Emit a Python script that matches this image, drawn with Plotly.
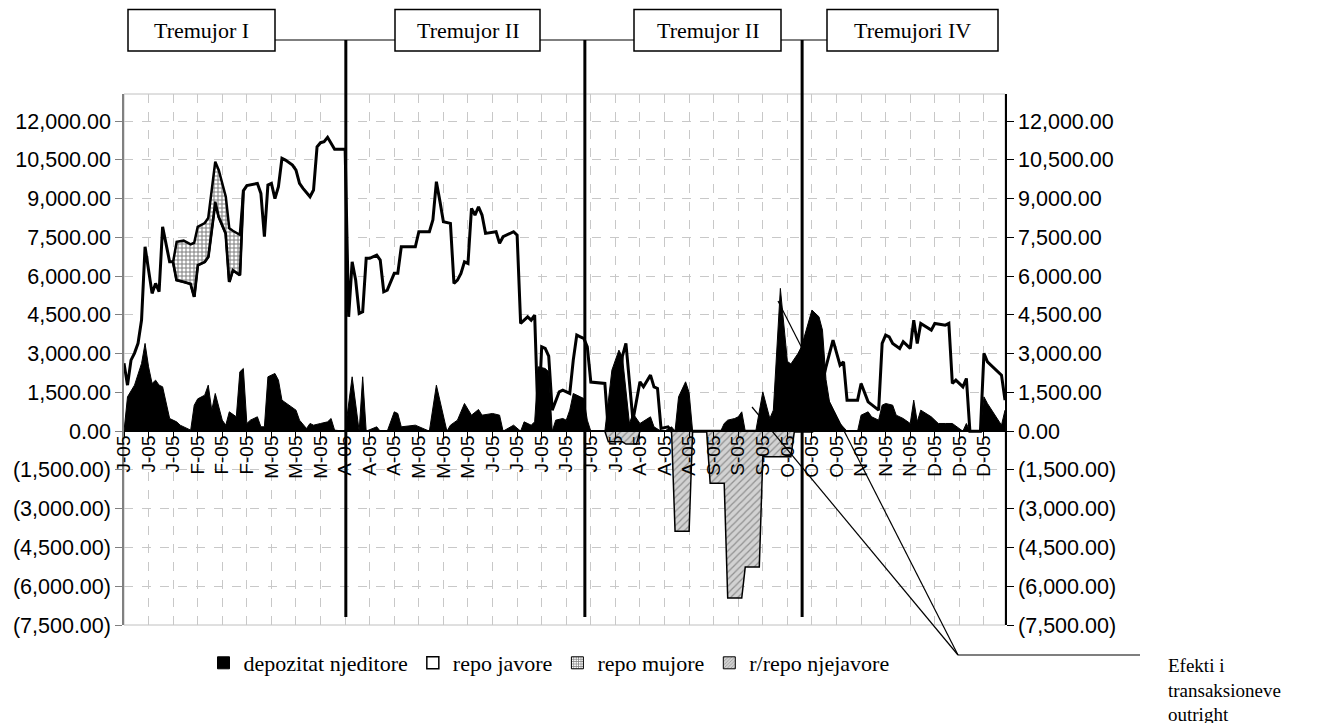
import plotly.graph_objects as go

# ---------------- data ----------------
N_DAYS = 252          # business days on the category axis
TICK_STEP = 7         # a label every 7 business days
tick_labels = ["J-05", "J-05", "J-05", "F-05", "F-05", "F-05", "M-05", "M-05", "M-05",
               "A-05", "A-05", "A-05", "M-05", "M-05", "M-05", "J-05", "J-05", "J-05",
               "J-05", "J-05", "J-05", "A-05", "A-05", "A-05", "S-05", "S-05", "S-05",
               "O-05", "O-05", "O-05", "N-05", "N-05", "N-05", "D-05", "D-05", "D-05"]

# repo javore (day index, value)
repo_javore = [(0, 2630), (1, 1780), (2, 2750), (3, 3020), (4, 3400), (5, 4300), (6, 7135), (7, 6230),
               (8, 5330), (9, 5717), (10, 5395), (11, 7909), (12, 7265), (13, 6553), (14, 6553), (15, 5845),
               (17, 5780), (19, 5700), (20, 5200), (21, 6426), (23, 6553), (24, 6747), (26, 8876), (27, 8296),
               (29, 7652), (30, 5779), (31, 6232), (33, 6039), (34, 9300), (35, 9500), (38, 9587), (39, 9200),
               (40, 7522), (41, 9523), (42, 9587), (43, 9000), (44, 9458), (45, 10557), (46, 10490), (48, 10297),
               (49, 10103), (50, 9587), (51, 9394), (53, 9070), (54, 9329), (55, 11000), (56, 11161), (57, 11200),
               (58, 11369), (60, 10905), (63, 10905), (64, 4425), (65, 6553), (66, 5845), (67, 4556), (68, 4620),
               (69, 6686), (70, 6686), (72, 6813), (73, 6620), (74, 5393), (75, 5458), (77, 6105), (78, 6105),
               (79, 7135), (83, 7135), (84, 7716), (87, 7716), (88, 8168), (89, 9652), (90, 8900), (91, 8100),
               (93, 8039), (94, 5717), (95, 5845), (96, 6103), (97, 6553), (98, 6490), (99, 8620), (100, 8361),
               (101, 8683), (102, 8361), (103, 7652), (106, 7716), (107, 7265), (108, 7522), (111, 7716),
               (112, 7587), (113, 4169), (115, 4425), (116, 4296), (117, 4490), (118, 300), (119, 3264),
               (120, 3200), (121, 2900), (122, 813), (124, 1523), (125, 1587), (126, 1523), (127, 1458),
               (128, 2748), (129, 3716), (130, 3651), (131, 3587), (132, 3264), (133, 1900), (137, 1845),
               (138, 0), (140, 0), (142, 2900), (143, 3394), (145, 420), (147, 1909), (148, 1716), (150, 2168),
               (151, 1716), (152, 1652), (153, 103), (155, 166), (156, 0), (196, 0), (199, 1800), (200, 2490),
               (202, 3523), (204, 2555), (205, 2683), (206, 1200), (209, 1200), (210, 1845), (212, 1135),
               (215, 813), (216, 3394), (217, 3716), (218, 3651), (219, 3394), (221, 3200), (222, 3458),
               (224, 3200), (225, 4297), (226, 3394), (227, 4168), (230, 3910), (231, 4168), (234, 4103),
               (235, 4168), (236, 1845), (237, 1974), (239, 1716), (240, 2039), (241, 0), (244, 0),
               (245, 3007), (246, 2683), (250, 2168), (251, 1200)]

# repo mujore (stacked on top of repo javore), same day indices as repo javore
repo_mujore = [(14, 0), (15, 1480), (17, 1590), (19, 1530), (20, 2090), (21, 1480), (23, 1500), (24, 1500),
               (26, 1550), (27, 1800), (29, 1420), (30, 2070), (31, 1520), (33, 1560), (34, 0)]

# depozitat njeditore
depozitat = [(0, 0), (1, 1328), (3, 1780), (5, 2620), (6, 3394), (7, 2490), (8, 1845), (9, 1974), (10, 1780),
             (11, 1716), (13, 490), (15, 360), (16, 232), (18, 103), (19, 39), (20, 1000), (21, 1250),
             (23, 1393), (24, 1780), (25, 813), (26, 1458), (28, 426), (29, 232), (30, 748), (32, 555),
             (33, 2296), (34, 2425), (35, 297), (36, 426), (38, 555), (39, 168), (40, 168), (41, 2103),
             (43, 2232), (44, 1974), (45, 1200), (49, 813), (50, 426), (52, 103), (53, 297), (54, 232),
             (56, 297), (58, 361), (59, 490), (60, 39), (63, 0), (65, 2103), (67, 0), (68, 2103), (69, 0),
             (72, 168), (73, 0), (75, 0), (77, 748), (78, 684), (79, 168), (83, 232), (87, 0), (89, 1780),
             (92, 0), (93, 232), (95, 426), (97, 1071), (99, 619), (101, 838), (102, 619), (105, 684),
             (107, 619), (108, 0), (111, 232), (113, 0), (114, 361), (116, 232), (117, 361), (118, 2490),
             (120, 2425), (121, 2296), (122, 0), (123, 426), (125, 490), (126, 426), (127, 813), (128, 1458),
             (130, 1328), (131, 1264), (132, 426), (133, 0), (137, 0), (139, 2361), (141, 3135), (142, 2877),
             (144, 297), (145, 684), (147, 297), (150, 555), (151, 168), (153, 0), (154, 0), (156, 168),
             (157, 0), (158, 1328), (160, 1909), (161, 1500), (162, 0), (170, 0), (171, 297), (172, 426),
             (174, 490), (175, 555), (176, 748), (177, 0), (180, 0), (182, 1523), (184, 490), (185, 813),
             (187, 5524), (189, 2700), (190, 2600), (191, 2800), (192, 3000), (193, 3264), (195, 4168),
             (196, 4684), (198, 4425), (199, 3910), (200, 2000), (201, 1135), (204, 297), (205, 168),
             (206, 0), (209, 0), (210, 619), (212, 748), (213, 555), (215, 426), (216, 1006), (217, 1071),
             (219, 1006), (220, 619), (222, 490), (224, 297), (225, 1200), (226, 361), (227, 813),
             (230, 555), (232, 297), (234, 297), (236, 297), (239, 0), (240, 297), (241, 0), (244, 0),
             (245, 1328), (246, 1071), (250, 232), (251, 813)]

# r/repo njejavore (negative)
rrepo_njejavore = [(137, 0), (138, -414), (142, -414), (143, -500), (146, -500), (147, 0), (156, 0),
                   (157, -3870), (161, -3870), (162, 0), (166, 0), (167, -2013), (171, -2013), (172, -6455),
                   (176, -6455), (177, -5255), (181, -5255), (182, -994), (190, -994), (191, 0)]

quarter_breaks = [63.2, 131.3, 193.2]          # day positions of quarter separators
quarter_names = ["Tremujor I", "Tremujor II", "Tremujor II", "Tremujori IV"]
legend_names = ["depozitat njeditore", "repo javore", "repo mujore", "r/repo njejavore"]
note_text = "Efekti i<br>transaksioneve<br>outright"

Y_MIN, Y_MAX = -7500, 13045
y_ticks = list(range(-7500, 12001, 1500))


def fmt(v):
    s = f"{abs(v):,.2f}"
    return f"({s})" if v < 0 else s


y_ticktext = [fmt(v) for v in y_ticks]

# ---------------- geometry helpers (layout only, screen pixels) ----------------
W, H = 1332, 723
OFF = 8                      # page body margin of the browser
L, R, T, B = 124, 1005, 94, 625


def px(x):
    return (x - L) / (R - L)


def py(y):
    return (B - y) / (B - T)


def unzip(pairs):
    return [p[0] for p in pairs], [p[1] for p in pairs]


SERIF = "Liberation Serif"
SANS = "Liberation Sans"

fig = go.Figure()

jx, jy = unzip(repo_javore)
fig.add_trace(go.Scatter(x=jx, y=jy, mode="lines", fill="tozeroy", fillcolor="white",
                         line=dict(color="black", width=3), showlegend=False, hoverinfo="skip"))

jmap = dict(repo_javore)
mx, mv = unzip(repo_mujore)
top = [jmap[d] + m for d, m in zip(mx, mv)]
base = [jmap[d] for d in mx]
fig.add_trace(go.Scatter(x=mx + mx[::-1], y=top + base[::-1], mode="lines", fill="toself",
                         fillcolor="white",
                         fillpattern=dict(shape="+", fgcolor="black", bgcolor="white", size=4, solidity=0.45),
                         line=dict(color="black", width=2.5), showlegend=False, hoverinfo="skip"))

dx, dy = unzip(depozitat)
fig.add_trace(go.Scatter(x=dx, y=dy, mode="lines", fill="tozeroy", fillcolor="black",
                         line=dict(color="black", width=1), showlegend=False, hoverinfo="skip"))

rx, ry = unzip(rrepo_njejavore)
fig.add_trace(go.Scatter(x=rx, y=ry, mode="lines", fill="tozeroy", fillcolor="#cfcfcf",
                         fillpattern=dict(shape="/", fgcolor="#505050", bgcolor="#d2d2d2", size=5, solidity=0.25),
                         line=dict(color="black", width=1.5), showlegend=False, hoverinfo="skip"))

# invisible trace to bring up the right axis
fig.add_trace(go.Scatter(x=[0], y=[0], yaxis="y2", mode="markers", marker=dict(opacity=0),
                         showlegend=False, hoverinfo="skip"))

# legend entries (square swatches)
leg_markers = [
    dict(color="black", line=dict(color="black", width=1)),
    dict(color="white", line=dict(color="black", width=1.5)),
    dict(color="white", line=dict(color="black", width=1),
         pattern=dict(shape="+", fgcolor="black", bgcolor="white", size=3, solidity=0.5)),
    dict(color="#d2d2d2", line=dict(color="black", width=1),
         pattern=dict(shape="/", fgcolor="#505050", bgcolor="#d2d2d2", size=3, solidity=0.3)),
]
for name, mk in zip(legend_names, leg_markers):
    fig.add_trace(go.Bar(x=[None], y=[None], name=name, marker=mk, showlegend=True, hoverinfo="skip"))

y0_pos = (0 - Y_MIN) / (Y_MAX - Y_MIN)

shapes = [dict(type="rect", xref="paper", yref="paper", x0=0, x1=1, y0=0, y1=1,
               line=dict(color="#c0c0c0", width=1), layer="below")]
for q in quarter_breaks:
    shapes.append(dict(type="line", xref="x", yref="paper", x0=q, x1=q, y0=py(617), y1=py(40),
                       line=dict(color="black", width=3)))

boxes = [(128, 275), (395, 540), (634, 781), (827, 998)]
annotations = []
for (bx0, bx1), name in zip(boxes, quarter_names):
    shapes.append(dict(type="rect", xref="paper", yref="paper", x0=px(bx0), x1=px(bx1),
                       y0=py(51), y1=py(9.5), line=dict(color="black", width=1.5), fillcolor="white"))
    annotations.append(dict(xref="paper", yref="paper", x=px((bx0 + bx1) / 2), y=py(30),
                            text=name, showarrow=False, xanchor="center", yanchor="middle",
                            font=dict(family=SERIF, size=22, color="black")))
for (a0, a1), (b0, b1) in zip(boxes[:-1], boxes[1:]):
    shapes.append(dict(type="line", xref="paper", yref="paper", x0=px(a1), x1=px(b0),
                       y0=py(40), y1=py(40), line=dict(color="black", width=1.2)))

# pointer lines for the note
for sx, sy in [(778, 301), (752, 407)]:
    shapes.append(dict(type="line", xref="paper", yref="paper", x0=px(sx), y0=py(sy),
                       x1=px(958), y1=py(655), line=dict(color="black", width=1.2)))
shapes.append(dict(type="line", xref="paper", yref="paper", x0=px(958), y0=py(655),
                   x1=px(1140), y1=py(655), line=dict(color="black", width=1.2)))
annotations.append(dict(xref="paper", yref="paper", x=px(1166), y=py(653), text=note_text,
                        showarrow=False, xanchor="left", yanchor="top", align="left",
                        font=dict(family=SERIF, size=19, color="black")))

axis_y = dict(range=[Y_MIN, Y_MAX], tickvals=y_ticks, ticktext=y_ticktext,
              tickfont=dict(family=SANS, size=21.5, color="black"), zeroline=False,
              ticks="outside", ticklen=7)

fig.update_layout(
    width=W, height=H,
    margin=dict(l=L - OFF, r=W - (R - OFF), t=T - OFF, b=H - (B - OFF), pad=0, autoexpand=False),
    paper_bgcolor="white", plot_bgcolor="white",
    showlegend=True,
    legend=dict(orientation="h", x=px(549), xanchor="center", y=py(663), yanchor="middle",
                font=dict(family=SERIF, size=22, color="black"), bgcolor="rgba(0,0,0,0)",
                itemwidth=30, tracegroupgap=0),
    xaxis=dict(range=[0, N_DAYS - 1], tickvals=[i * TICK_STEP for i in range(len(tick_labels))],
               ticktext=tick_labels, tickangle=-90,
               tickfont=dict(family=SANS, size=19, color="black"),
               showgrid=True, gridcolor="#c8c8c8", griddash="dash", gridwidth=1,
               showline=True, linecolor="black", linewidth=1.5,
               ticks="outside", ticklen=6, tickcolor="black", ticklabelstandoff=-10,
               anchor="free", position=y0_pos, zeroline=False),
    yaxis=dict(**axis_y, showgrid=True, gridcolor="#c8c8c8", griddash="dash", gridwidth=1,
               showline=True, linecolor="#808080", linewidth=1.5, tickcolor="#808080"),
    yaxis2=dict(**axis_y, overlaying="y", side="right", showgrid=False,
                showline=True, linecolor="black", linewidth=1.5, tickcolor="black"),
    shapes=shapes, annotations=annotations,
    barmode="overlay",
)

fig.write_html("out.html")
